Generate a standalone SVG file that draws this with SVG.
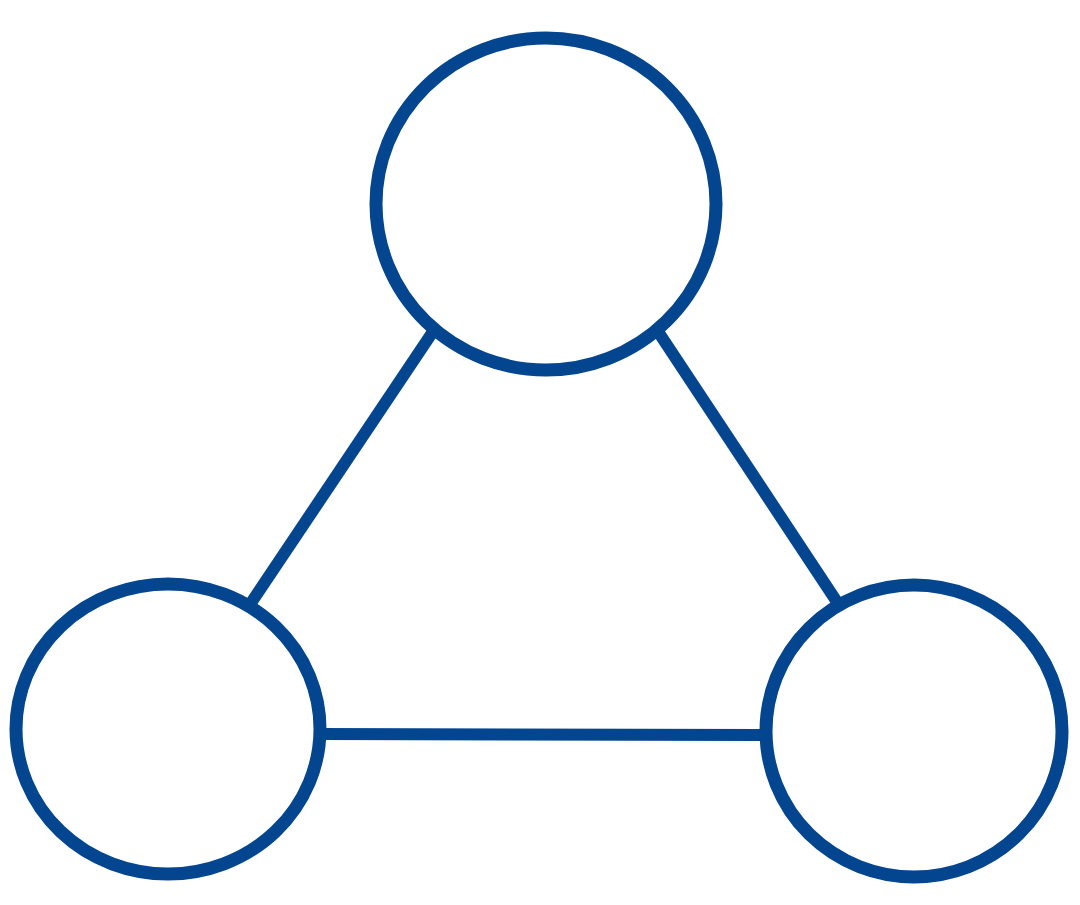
<svg xmlns="http://www.w3.org/2000/svg" width="1080" height="905" viewBox="0 0 1080 905">
<style>
.node{fill:#ffffff;stroke:#03468f;stroke-width:13}
.edge{stroke:#03468f;stroke-width:12;fill:none}
</style>
<rect width="1080" height="905" fill="#ffffff"/>
<g id="connectors">
<line class="edge" x1="432" y1="333" x2="251" y2="603"/>
<line class="edge" x1="659" y1="333" x2="837" y2="602"/>
<line class="edge" x1="319" y1="734" x2="762" y2="735"/>
</g>
<g id="node-top"><ellipse class="node" cx="546" cy="204" rx="170" ry="166"/></g>
<g id="node-left"><ellipse class="node" cx="168" cy="729" rx="152" ry="145"/></g>
<g id="node-right"><ellipse class="node" cx="914" cy="731" rx="148" ry="146"/></g>
</svg>
